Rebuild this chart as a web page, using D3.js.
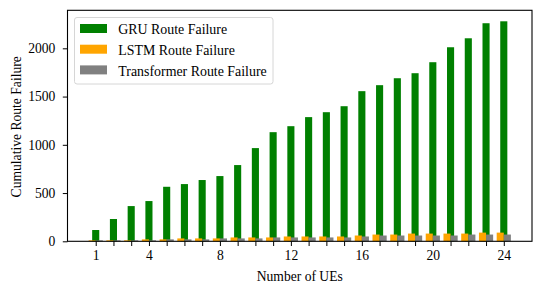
<!DOCTYPE html>
<html>
<head>
<meta charset="utf-8">
<script src="https://cdn.jsdelivr.net/npm/d3@7"></script>
<style>
  html, body { margin: 0; padding: 0; background: #fff; }
  svg { display: block; }
  text { font-family: "Liberation Serif", "Times New Roman", serif !important; fill: #000; }
</style>
</head>
<body>
<svg id="chart" width="542" height="294"></svg>
<script>
// ---- Data ----
const ues = d3.range(1, 25);
const gruFailures = [117, 231, 365, 417, 565, 593, 635, 676, 790, 966, 1131, 1193,
                     1287, 1338, 1400, 1556, 1618, 1690, 1742, 1856, 2011, 2104, 2260, 2280];
const lstmFailures = [10, 10, 10, 20, 20, 30, 30, 30, 40, 40, 40, 50,
                      50, 50, 50, 60, 70, 70, 80, 80, 80, 80, 90, 90];
const transformerFailures = [10, 10, 10, 10, 20, 20, 20, 30, 30, 30, 40, 40,
                             40, 40, 40, 50, 60, 60, 60, 60, 60, 70, 70, 70];
const xTickLabels = [1, 4, 8, 12, 16, 20, 24];
const yTicks = [0, 500, 1000, 1500, 2000];
const seriesNames = ["GRU Route Failure", "LSTM Route Failure", "Transformer Route Failure"];
const seriesColors = ["green", "orange", "gray"];

// ---- Layout ----
const FONT = "'Liberation Serif', 'Times New Roman', serif";
const FS = 13.6;
const svg = d3.select("#chart");
const mLeft = 67.5, mRight = 532, mTop = 10.3, mBottom = 241.3;
const barW = 0.4;

const x = d3.scaleLinear().domain([1 - barW - 1.19, 24 + barW + 1.19]).range([mLeft, mRight]);
const yMax = 2280 * 1.05;
const y = d3.scaleLinear().domain([0, yMax]).range([mBottom, mTop]);

const series = [
  { name: seriesNames[0], color: seriesColors[0], values: gruFailures, offset: 0 },
  { name: seriesNames[1], color: seriesColors[1], values: lstmFailures, offset: -barW / 2 },
  { name: seriesNames[2], color: seriesColors[2], values: transformerFailures, offset: barW / 2 }
];

const pxW = x(barW) - x(0);
series.forEach(s => {
  svg.append("g").selectAll("rect").data(ues).enter().append("rect")
    .attr("x", (d) => x(d + s.offset) - pxW / 2)
    .attr("width", pxW)
    .attr("y", (d, i) => y(s.values[i]))
    .attr("height", (d, i) => y(0) - y(s.values[i]))
    .attr("fill", s.color);
});

// ---- Axes ----
const xAxis = d3.axisBottom(x).tickValues(ues).tickSize(4.7).tickPadding(4.2)
  .tickFormat(d => xTickLabels.includes(d) ? String(d) : "");
const gx = svg.append("g").attr("transform", `translate(0,${mBottom})`).call(xAxis)
  .attr("font-family", FONT).attr("font-size", FS);
gx.select(".domain").remove();
gx.selectAll("line").attr("stroke", "#000").attr("stroke-width", 1);

const yAxis = d3.axisLeft(y).tickValues(yTicks).tickSize(4.7).tickPadding(7.5)
  .tickFormat(d3.format("d"));
const gy = svg.append("g").attr("transform", `translate(${mLeft},0)`).call(yAxis)
  .attr("font-family", FONT).attr("font-size", FS);
gy.select(".domain").remove();
gy.selectAll("line").attr("stroke", "#000").attr("stroke-width", 1);

// frame
svg.append("rect").attr("x", mLeft).attr("y", mTop).attr("width", mRight - mLeft).attr("height", mBottom - mTop)
  .attr("fill", "none").attr("stroke", "#000").attr("stroke-width", 1.1);

// axis labels
svg.append("text").attr("x", (mLeft + mRight) / 2).attr("y", 281).attr("text-anchor", "middle")
  .attr("font-size", FS).text("Number of UEs");
svg.append("text").attr("transform", `translate(21,${(mTop + mBottom) / 2 + 1}) rotate(-90)`)
  .attr("text-anchor", "middle").attr("font-size", FS).text("Cumulative Route Failure");

// ---- Legend ----
const lg = svg.append("g");
lg.append("rect").attr("x", 74.5).attr("y", 17.5).attr("width", 198.5).attr("height", 66.5)
  .attr("rx", 2.5).attr("fill", "#fff").attr("fill-opacity", 0.8)
  .attr("stroke", "#d6d6d6").attr("stroke-width", 1);
series.forEach((s, i) => {
  const yy = 24 + i * 20.7;
  lg.append("rect").attr("x", 80).attr("y", yy).attr("width", 27).attr("height", 9).attr("fill", s.color);
  lg.append("text").attr("x", 118.3).attr("y", yy + 10.3)
    .attr("font-size", 13.9).text(s.name);
});
</script>
</body>
</html>
